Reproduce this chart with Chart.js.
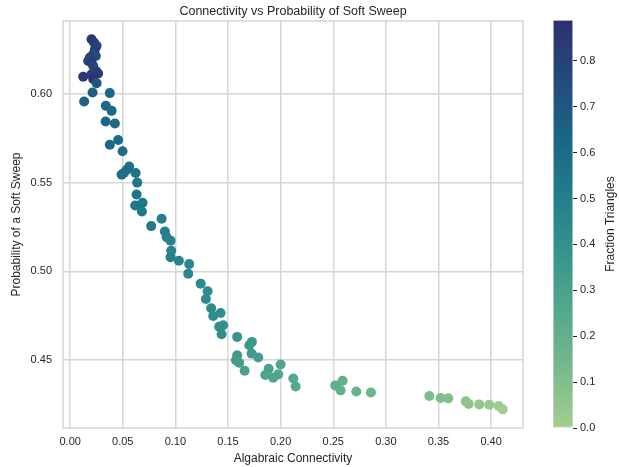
<!DOCTYPE html>
<html>
<head>
<meta charset="utf-8">
<script src="https://cdn.jsdelivr.net/npm/chart.js@4"></script>
<style>
  html, body { margin: 0; padding: 0; background: #fff; }
  #wrap { position: relative; width: 619px; height: 467px; }
  #main { position: absolute; left: 0; top: 0; width: 540px; height: 467px; }
  #cbar { position: absolute; left: 540px; top: 0; width: 79px; height: 467px; }
</style>
</head>
<body>
<div id="wrap">
  <div id="main"><canvas id="scatter"></canvas></div>
  <div id="cbar"><canvas id="colorbar"></canvas></div>
</div>
<script>
// algebraic connectivity of each network
var connectivity = [
  0.0203, 0.0228, 0.0251, 0.0235, 0.0219, 0.0244, 0.0187, 0.0171, 0.0203, 0.0219,
  0.0244, 0.0266, 0.0203, 0.0124, 0.0219, 0.0251, 0.0213, 0.0377, 0.0133, 0.0339,
  0.0394, 0.0337, 0.0425, 0.0456, 0.0377, 0.0498, 0.0561, 0.0536, 0.0510, 0.0489,
  0.0622, 0.0637, 0.0631, 0.0688, 0.0618, 0.0682, 0.0869, 0.0770, 0.0900, 0.0916,
  0.0954, 0.0960, 0.0954, 0.1033, 0.1131, 0.1122, 0.1240, 0.1306, 0.1290, 0.1340,
  0.1430, 0.1359, 0.1454, 0.1416, 0.1439, 0.1587, 0.1727, 0.1702, 0.1724, 0.1787,
  0.1587, 0.1575, 0.1606, 0.2000, 0.1886, 0.1658, 0.1977, 0.1854, 0.1930, 0.2120,
  0.2143, 0.2519, 0.2589, 0.2570, 0.2719, 0.2858, 0.3413, 0.3521, 0.3593, 0.3759,
  0.3787, 0.3888, 0.3983, 0.4072, 0.4110
]
// probability that the sweep is soft
var softSweep = [
  0.6307, 0.6288, 0.6270, 0.6250, 0.6223, 0.6213, 0.6204, 0.6185, 0.6176, 0.6157,
  0.6129, 0.6114, 0.6110, 0.6096, 0.6083, 0.6060, 0.6007, 0.6004, 0.5957, 0.5933,
  0.5904, 0.5844, 0.5833, 0.5740, 0.5713, 0.5676, 0.5590, 0.5571, 0.5554, 0.5545,
  0.5554, 0.5500, 0.5433, 0.5386, 0.5371, 0.5337, 0.5296, 0.5255, 0.5225, 0.5193,
  0.5173, 0.5116, 0.5080, 0.5060, 0.5041, 0.4987, 0.4931, 0.4888, 0.4844, 0.4792,
  0.4766, 0.4749, 0.4697, 0.4688, 0.4646, 0.4631, 0.4603, 0.4584, 0.4537, 0.4515,
  0.4528, 0.4500, 0.4485, 0.4476, 0.4451, 0.4440, 0.4420, 0.4416, 0.4401, 0.4397,
  0.4352, 0.4358, 0.4384, 0.4330, 0.4324, 0.4318, 0.4298, 0.4287, 0.4285, 0.4268,
  0.4253, 0.4251, 0.4249, 0.4242, 0.4223
]
// fraction of triangles, used for colour
var fracTriangles = [
  0.86, 0.84, 0.80, 0.82, 0.78, 0.76, 0.80, 0.77, 0.83, 0.79,
  0.81, 0.85, 0.82, 0.84, 0.889, 0.70, 0.66, 0.62, 0.64, 0.62,
  0.61, 0.62, 0.60, 0.60, 0.61, 0.58, 0.57, 0.58, 0.57, 0.58,
  0.56, 0.55, 0.55, 0.54, 0.55, 0.53, 0.50, 0.52, 0.50, 0.49,
  0.48, 0.48, 0.49, 0.47, 0.45, 0.46, 0.44, 0.43, 0.43, 0.42,
  0.41, 0.42, 0.40, 0.41, 0.41, 0.37, 0.35, 0.35, 0.33, 0.32,
  0.34, 0.33, 0.32, 0.27, 0.29, 0.30, 0.27, 0.28, 0.28, 0.25,
  0.25, 0.21, 0.20, 0.20, 0.18, 0.17, 0.11, 0.10, 0.09, 0.07,
  0.06, 0.05, 0.04, 0.02, 0.00
]
var xTicks = [0, 0.05, 0.10, 0.15, 0.20, 0.25, 0.30, 0.35, 0.40]
var yTicks = [0.45, 0.50, 0.55, 0.60]
var cbTicks = [0, 0.1, 0.2, 0.3, 0.4, 0.5, 0.6, 0.7, 0.8]

var textColor = '#262626'
var gridColor = '#d6d6d6'
var fontFamily = '"Liberation Sans", Arial, sans-serif'
Chart.defaults.font.family = fontFamily
Chart.defaults.color = textColor

// crest colormap, light green -> navy
var crestStops = [
  [165, 205, 144], [133, 192, 140], [105, 179, 140], [81, 166, 141], [60, 151, 141],
  [44, 136, 140], [32, 120, 138], [27, 103, 134], [32, 85, 127], [39, 66, 120], [44, 48, 112]
]
function crest(t) {
  t = Math.max(0, Math.min(1, t))
  var p = t * (crestStops.length - 1)
  var i = Math.min(Math.floor(p), crestStops.length - 2)
  var f = p - i
  var a = crestStops[i], b = crestStops[i + 1]
  return 'rgb(' + [0, 1, 2].map(function (k) { return Math.round(a[k] + (b[k] - a[k]) * f) }).join(',') + ')'
}

var triMin = Math.min.apply(null, fracTriangles)
var triMax = Math.max.apply(null, fracTriangles)

var points = connectivity.map(function (x, i) { return { x: x, y: softSweep[i] } })
var pointColors = fracTriangles.map(function (v) { return crest((v - triMin) / (triMax - triMin)) })

function fixedTicks(list) {
  return function (scale) { scale.ticks = list.map(function (v) { return { value: v } }) }
}

// light frame round the plot area, drawn over the dots like matplotlib spines
var frame = {
  id: 'frame',
  afterDatasetsDraw: function (chart) {
    var a = chart.chartArea, ctx = chart.ctx
    ctx.save()
    ctx.strokeStyle = gridColor
    ctx.lineWidth = 1.5
    ctx.strokeRect(a.left, a.top, a.right - a.left, a.bottom - a.top)
    ctx.restore()
  }
}

new Chart(document.getElementById('scatter'), {
  type: 'scatter',
  data: {
    datasets: [{
      data: points,
      pointBackgroundColor: pointColors,
      pointBorderWidth: 0,
      pointRadius: 5,
      pointHoverRadius: 5
    }]
  },
  options: {
    responsive: true,
    maintainAspectRatio: false,
    animation: false,
    events: [],
    layout: { padding: { right: 17, left: 0, top: 0, bottom: 0 } },
    plugins: {
      legend: { display: false },
      tooltip: { enabled: false },
      title: {
        display: true,
        fullSize: false,
        text: 'Connectivity vs Probability of Soft Sweep',
        color: textColor,
        font: { size: 12.5, weight: 'normal' },
        padding: { top: 4, bottom: 2 }
      }
    },
    scales: {
      x: {
        type: 'linear',
        min: -0.0068,
        max: 0.4303,
        afterBuildTicks: fixedTicks(xTicks),
        afterFit: function (s) { s.height = 39 },
        ticks: {
          callback: function (v) { return v.toFixed(2) },
          font: { size: 11 },
          color: textColor,
          padding: 7,
          maxRotation: 0
        },
        grid: { color: gridColor, lineWidth: 1.5, drawTicks: false },
        border: { display: false },
        title: {
          display: true,
          text: 'Algabraic Connectivity',
          color: textColor,
          font: { size: 12 },
          padding: { top: 0, bottom: 1 }
        }
      },
      y: {
        type: 'linear',
        min: 0.4118,
        max: 0.641,
        afterBuildTicks: fixedTicks(yTicks),
        afterFit: function (s) { s.width = 63 },
        ticks: {
          callback: function (v) { return v.toFixed(2) },
          font: { size: 11 },
          color: textColor,
          padding: 11
        },
        grid: { color: gridColor, lineWidth: 1.5, drawTicks: false },
        border: { display: false },
        title: {
          display: true,
          text: 'Probability of a Soft Sweep',
          color: textColor,
          font: { size: 12 },
          padding: { top: 9, bottom: 0 }
        }
      }
    }
  },
  plugins: [frame]
})

// colour bar label, reading bottom to top
var cbarLabel = {
  id: 'cbarLabel',
  afterDraw: function (chart) {
    var ctx = chart.ctx, a = chart.chartArea
    ctx.save()
    ctx.translate(71, (a.top + a.bottom) / 2)
    ctx.rotate(-Math.PI / 2)
    ctx.font = '12px ' + fontFamily
    ctx.fillStyle = textColor
    ctx.textAlign = 'center'
    ctx.textBaseline = 'middle'
    ctx.fillText('Fraction Triangles', 0, 0)
    ctx.restore()
  }
}

new Chart(document.getElementById('colorbar'), {
  type: 'bar',
  data: {
    labels: [''],
    datasets: [{
      data: [[triMin, triMax]],
      backgroundColor: function (c) {
        var a = c.chart.chartArea
        if (!a) return crest(0.5)
        var g = c.chart.ctx.createLinearGradient(0, a.bottom, 0, a.top)
        crestStops.forEach(function (s, i) {
          g.addColorStop(i / (crestStops.length - 1), 'rgb(' + s.join(',') + ')')
        })
        return g
      },
      borderColor: gridColor,
      borderWidth: 1,
      borderSkipped: false,
      barPercentage: 1,
      categoryPercentage: 1
    }]
  },
  options: {
    responsive: true,
    maintainAspectRatio: false,
    animation: false,
    events: [],
    layout: { padding: { left: 13, top: 20, bottom: 39, right: 0 } },
    plugins: { legend: { display: false }, tooltip: { enabled: false } },
    scales: {
      x: { display: false },
      y: {
        position: 'right',
        min: triMin,
        max: triMax,
        afterBuildTicks: fixedTicks(cbTicks),
        afterFit: function (s) { s.width = 46 },
        ticks: {
          callback: function (v) { return v.toFixed(1) },
          font: { size: 11 },
          color: textColor,
          padding: 3
        },
        grid: { drawOnChartArea: false, drawTicks: true, tickLength: 4, tickColor: textColor, tickWidth: 1 },
        border: { display: false }
      }
    }
  },
  plugins: [cbarLabel]
})
</script>
</body>
</html>
